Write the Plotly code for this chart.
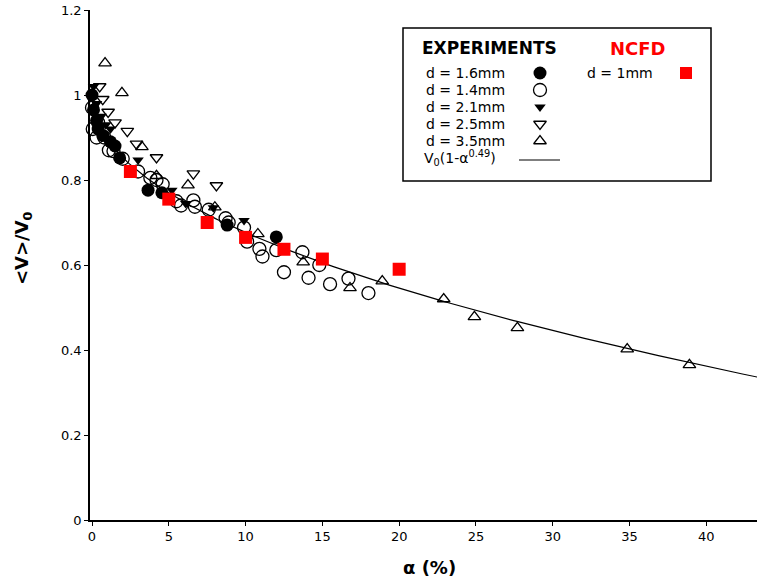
import numpy as np
import plotly.graph_objects as go

# ---------------- data ----------------
# d = 1.6 mm (filled circles)
a16 = [0.0, 0.1, 0.3, 0.4, 0.7, 1.2, 1.5, 1.8, 3.65, 4.55, 8.8, 12.0]
v16 = [1.0, 0.965, 0.94, 0.92, 0.905, 0.89, 0.88, 0.852, 0.776, 0.77, 0.694, 0.666]

# d = 1.4 mm (open circles)
a14 = [0.0, 0.05, 0.3, 0.4, 0.8, 1.1, 1.4, 2.0, 3.0, 3.8, 4.2, 4.6, 5.5, 5.8,
       6.6, 6.7, 7.6, 8.7, 8.9, 9.9, 10.1, 10.9, 11.1, 12.0, 12.5, 13.7,
       14.1, 14.8, 15.5, 16.7, 18.0]
v14 = [0.97, 0.92, 0.90, 0.935, 0.90, 0.87, 0.868, 0.85, 0.82, 0.805, 0.80, 0.79,
       0.75, 0.74, 0.752, 0.737, 0.73, 0.71, 0.70, 0.688, 0.655, 0.638, 0.62,
       0.635, 0.583, 0.63, 0.57, 0.60, 0.555, 0.568, 0.534]

# d = 2.1 mm (filled down-triangles)
a21 = [0.1, 0.3, 0.6, 0.9, 1.2, 3.0, 5.2, 6.1, 7.9, 9.9]
v21 = [1.02, 0.98, 0.95, 0.93, 0.92, 0.847, 0.776, 0.745, 0.735, 0.705]

# d = 2.5 mm (open down-triangles)
a25 = [0.5, 0.7, 1.05, 1.5, 2.3, 2.9, 4.2, 6.6, 8.1]
v25 = [1.02, 0.99, 0.96, 0.935, 0.915, 0.885, 0.853, 0.815, 0.787]

# d = 3.5 mm (open up-triangles)
a35 = [0.85, 1.95, 3.25, 4.2, 6.25, 8.0, 10.8, 13.75, 16.8, 18.9, 22.9, 24.9,
       27.7, 34.85, 38.9]
v35 = [1.075, 1.005, 0.878, 0.81, 0.788, 0.736, 0.673, 0.607, 0.546, 0.562, 0.52,
       0.478, 0.452, 0.402, 0.365]

# NCFD d = 1 mm (red squares)
a_cfd = [2.5, 5.0, 7.5, 10.0, 12.5, 15.0, 20.0]
v_cfd = [0.82, 0.755, 0.70, 0.665, 0.637, 0.614, 0.59]

# fit  V0 (1 - alpha^0.49), alpha as fraction
V0 = 1.0
FIT_EXP = 0.49
x_ticks = [0, 5, 10, 15, 20, 25, 30, 35, 40]
y_ticks = [0, 0.2, 0.4, 0.6, 0.8, 1.0, 1.2]
y_tick_text = ["0", "0.2", "0.4", "0.6", "0.8", "1", "1.2"]

a_fit = np.concatenate([np.linspace(0, 1, 200), np.linspace(1, 44, 300)])
v_fit = V0 * (1 - (a_fit / 100.0) ** FIT_EXP)

FONT = "DejaVu Sans"

fig = go.Figure()

def add(x, y, symbol, color="black", size=12, lw=1.3):
    fig.add_trace(go.Scatter(
        x=x, y=y, mode="markers", cliponaxis=False, showlegend=False,
        marker=dict(symbol=symbol, size=size, color=color,
                    line=dict(color="black" if "open" in symbol else color, width=lw))))

add(a14, v14, "circle-open", size=13)
add(a16, v16, "circle", size=13, lw=0)
add(a21, v21, "triangle-down", size=10, lw=0)
add(a25, v25, "triangle-down-open", size=11)
add(a35, v35, "triangle-up-open", size=11)

fig.add_trace(go.Scatter(x=a_fit, y=v_fit, mode="lines", showlegend=False,
                         line=dict(color="black", width=1.2)))

fig.add_trace(go.Scatter(x=a_cfd, y=v_cfd, mode="markers", cliponaxis=False,
                         showlegend=False,
                         marker=dict(symbol="square", size=13, color="#ff0000",
                                     line=dict(width=0))))

# ---------------- legend drawn on a pixel overlay axis ----------------
# overlay axes cover the plot area: x 90..757 px, y 10..520 px
leg_rows_y = [73, 90, 107, 124, 141]
leg_labels = ["d = 1.6mm", "d = 1.4mm", "d = 2.1mm", "d = 2.5mm", "d = 3.5mm"]
leg_syms = [("circle", 13, 0), ("circle-open", 13, 1.3), ("triangle-down", 10, 0),
            ("triangle-down-open", 11, 1.3), ("triangle-up-open", 11, 1.3)]

shapes = [dict(type="rect", xref="x2", yref="y2", x0=403, x1=711, y0=28, y1=181,
               line=dict(color="black", width=1.5), fillcolor="white", layer="below"),
          dict(type="line", xref="x2", yref="y2", x0=519, x1=560, y0=160, y1=160,
               line=dict(color="black", width=1.2), layer="above")]

for (sym, sz, lw), yy in zip(leg_syms, leg_rows_y):
    fig.add_trace(go.Scatter(x=[540], y=[yy], xaxis="x2", yaxis="y2", mode="markers",
                             showlegend=False, cliponaxis=False,
                             marker=dict(symbol=sym, size=sz, color="black",
                                         line=dict(color="black", width=lw))))
fig.add_trace(go.Scatter(x=[686], y=[73], xaxis="x2", yaxis="y2", mode="markers",
                         showlegend=False, cliponaxis=False,
                         marker=dict(symbol="square", size=12, color="#ff0000",
                                     line=dict(width=0))))

annotations = []
for lab, yy in zip(leg_labels, leg_rows_y):
    annotations.append(dict(xref="x2", yref="y2", x=424, y=yy, text=lab, showarrow=False,
                            xanchor="left", yanchor="middle",
                            font=dict(family=FONT, size=14, color="black")))
annotations.append(dict(xref="x2", yref="y2", x=422, y=158,
                        text="V<sub>0</sub>(1-α<sup>0.49</sup>)", showarrow=False,
                        xanchor="left", yanchor="middle",
                        font=dict(family=FONT, size=14, color="black")))
annotations.append(dict(xref="x2", yref="y2", x=420, y=48, text="<b>EXPERIMENTS</b>",
                        showarrow=False, xanchor="left", yanchor="middle",
                        font=dict(family=FONT, size=17, color="black")))
annotations.append(dict(xref="x2", yref="y2", x=638, y=48, text="<b>NCFD</b>",
                        showarrow=False, xanchor="center", yanchor="middle",
                        font=dict(family=FONT, size=18, color="#ff0000")))
annotations.append(dict(xref="x2", yref="y2", x=585, y=73, text="d = 1mm",
                        showarrow=False, xanchor="left", yanchor="middle",
                        font=dict(family=FONT, size=14, color="black")))
# axis titles (paper coords; plot area = x 90..757, y 10..520 px)
annotations.append(dict(xref="paper", yref="paper", x=(429 - 90) / 667, y=(520 - 567) / 510,
                        text="<b>α (%)</b>",
                        showarrow=False, xanchor="center", yanchor="middle",
                        font=dict(family=FONT, size=18, color="black")))
annotations.append(dict(xref="paper", yref="paper", x=(23 - 90) / 667, y=(520 - 248) / 510,
                        text="<b>&lt;V&gt;/V<sub>0</sub></b>", textangle=-90,
                        showarrow=False, xanchor="center", yanchor="middle",
                        font=dict(family=FONT, size=18, color="black")))

fig.update_layout(
    width=757, height=585,
    margin=dict(l=90, r=0, t=10, b=65),
    paper_bgcolor="white", plot_bgcolor="white",
    font=dict(family=FONT, size=13, color="black"),
    xaxis=dict(range=[-0.13, 43.3], tickvals=x_ticks, showgrid=False, zeroline=False,
               showline=True, linecolor="black", linewidth=1.5, ticks="outside",
               ticklen=4, tickwidth=1, tickcolor="black",
               tickfont=dict(family=FONT, size=13)),
    yaxis=dict(range=[0, 1.2], tickvals=y_ticks, ticktext=y_tick_text, showgrid=False,
               zeroline=False, showline=True, linecolor="black", linewidth=1.5,
               ticks="outside", ticklen=4, tickwidth=1, tickcolor="black",
               tickfont=dict(family=FONT, size=13)),
    xaxis2=dict(range=[90, 757], overlaying="x", anchor="y2", visible=False,
                domain=[0, 1]),
    yaxis2=dict(range=[520, 10], overlaying="y", anchor="x2", visible=False,
                domain=[0, 1]),
    shapes=shapes,
    annotations=annotations,
)

# remove the default 8px page margin so the figure fills the window exactly
fig.write_html("out.html",
               config={"displayModeBar": False},
               post_script="document.body.style.margin='0';"
                           "document.body.style.overflow='hidden';")
